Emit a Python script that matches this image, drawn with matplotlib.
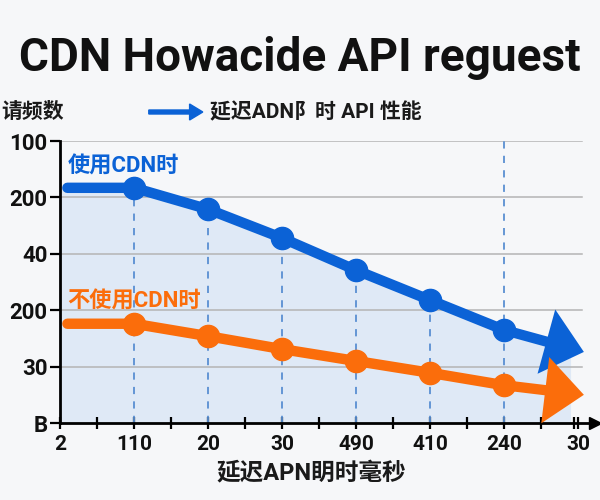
import matplotlib.pyplot as plt
from matplotlib.patches import FancyArrow

plt.rcParams['font.family'] = ['Roboto', 'Noto Sans CJK SC', 'DejaVu Sans']

title = "CDN Howacide API reguest"
y_label = "请频数"
x_label = "延迟APN眀时毫秒"
legend_text = "延迟ADN阝时 API 性能"
label_cdn = "使用CDN时"
label_nocdn = "不使用CDN时"

x_ticklabels = ["2", "110", "20", "30", "490", "410", "240", "30"]
y_ticklabels = ["B", "30", "200", "40", "200", "100"]

# line points (last one is the arrow tip)
x_pts = [0.1, 1, 2, 3, 4, 5, 6, 7.08]
with_cdn = [4.17, 4.17, 3.79, 3.28, 2.71, 2.18, 1.65, 1.26]
without_cdn = [1.76, 1.76, 1.54, 1.31, 1.10, 0.89, 0.67, 0.50]

blue = "#0b62d6"
orange = "#fb6d0b"
bg = "#f6f7f9"

fig = plt.figure(figsize=(6, 5), dpi=100, facecolor=bg)
ax = fig.add_axes([0.1, 0.154, 0.883, 0.564], facecolor=bg)

ax.set_xlim(0, 7.16)
ax.set_ylim(0, 5)

# grid
for j in range(1, len(y_ticklabels)):
    ax.axhline(j, color="#b4b4b4", lw=1.1, zorder=1, xmax=0.985)

# fill under the CDN line
ax.fill_between([0] + x_pts[:-1] + [6.9], [with_cdn[0]] + with_cdn[:-1] + [with_cdn[-1]],
                0, color="#dbe7f6", alpha=0.85, zorder=0.5, lw=0)

# dashed drop lines
for xv, yv in zip(x_pts[1:-2], with_cdn[1:-2]):
    ax.plot([xv, xv], [0, yv], color="#5a8fd2", lw=1.3, ls=(0, (4, 4)), zorder=2)
ax.plot([x_pts[-2], x_pts[-2]], [0, 5], color="#5a8fd2", lw=1.3, ls=(0, (4, 4)), zorder=2)

for vals, col in [(with_cdn, blue), (without_cdn, orange)]:
    ax.plot(x_pts[:-1], vals[:-1], color=col, lw=7.5, solid_capstyle="round", zorder=4)
    ax.plot(x_pts[1:-1], vals[1:-1], "o", color=col, ms=16, zorder=5)
    ax.annotate("", xy=(x_pts[-1], vals[-1]), xytext=(x_pts[-2], vals[-2]),
                arrowprops=dict(arrowstyle="simple,head_length=1.4,head_width=2.4,tail_width=0.37",
                                mutation_scale=20, color=col, lw=0,
                                shrinkA=0, shrinkB=0),
                zorder=4, annotation_clip=False)

ax.text(0.1, 4.55, label_cdn, color=blue, fontsize=16, fontweight="bold", va="center")
ax.text(0.1, 2.15, label_nocdn, color=orange, fontsize=16, fontweight="bold", va="center")

ax.set_xticks(range(len(x_ticklabels)))
ax.set_xticklabels(x_ticklabels)
ax.set_xticks([i + 0.5 for i in range(len(x_ticklabels) - 1)] + [6.95], minor=True)
ax.set_yticks(range(len(y_ticklabels)))
ax.set_yticklabels(y_ticklabels)

ax.tick_params(axis="x", which="both", direction="inout", length=9, width=1.6,
               labelsize=15, pad=4)
ax.tick_params(axis="y", direction="out", length=7, width=1.6, labelsize=16, pad=2)
for lab in ax.get_xticklabels() + ax.get_yticklabels():
    lab.set_fontweight("bold")
    lab.set_color("#111111")

for s in ["top", "right"]:
    ax.spines[s].set_visible(False)
ax.spines["left"].set_linewidth(2)
ax.spines["bottom"].set_linewidth(2)
ax.plot(1.01, 0, ">k", ms=8, transform=ax.get_yaxis_transform(), clip_on=False)

fig.text(0.5, 0.885, title, ha="center", va="center", fontsize=33, fontweight="bold",
         color="#111111")
fig.text(0.002, 0.776, y_label, ha="left", va="center", fontsize=15, fontweight="bold",
         color="#1a1a1a")
fig.text(0.35, 0.776, legend_text, ha="left", va="center", fontsize=15, fontweight="bold",
         color="#1a1a1a")
fig.patches.append(FancyArrow(0.248, 0.776, 0.09, 0, width=0.008,
                   head_width=0.032, head_length=0.022, color=blue, transform=fig.transFigure,
                   length_includes_head=True))
fig.text(0.518, 0.055, x_label, ha="center", va="center", fontsize=17, fontweight="bold",
         color="#1a1a1a")

fig.savefig("out.png", dpi=100, facecolor=bg)
